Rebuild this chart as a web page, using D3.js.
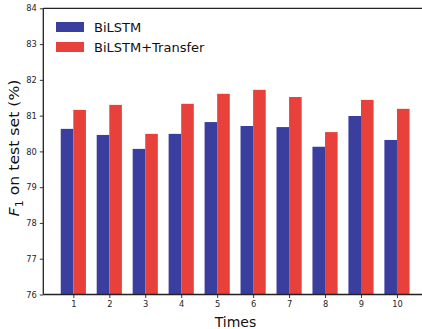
<!DOCTYPE html>
<html><head><meta charset="utf-8">
<script src="https://cdn.jsdelivr.net/npm/d3@7"></script>
<style>body{margin:0;background:#fff}svg{display:block}text{font-family:"DejaVu Sans",sans-serif}</style>
</head><body>
<script>
const times = [1,2,3,4,5,6,7,8,9,10];
const bilstm = [80.63,80.46,80.07,80.49,80.82,80.71,80.68,80.13,80.99,80.32];
const transfer = [81.16,81.30,80.49,81.33,81.61,81.72,81.52,80.54,81.44,81.19];
const yTicks = [76,77,78,79,80,81,82,83,84];
const seriesNames = ["BiLSTM","BiLSTM+Transfer"];
const colors = ["#3a3f9f","#e8403b"];

const W=422,H=329;
const svg=d3.select("body").append("svg").attr("width",W).attr("height",H);
const x=d3.scaleLinear().domain([0.165,10.835]).range([43.3,427]);
const y=d3.scaleLinear().domain([76,84]).range([294.5,8.3]);
const bw=0.35;

const series=[bilstm,transfer];
series.forEach((vals,si)=>{
  svg.append("g").selectAll("rect").data(vals).join("rect")
    .attr("x",(d,i)=>x(times[i]+(si===0?-bw:0)))
    .attr("width",x(bw)-x(0))
    .attr("y",d=>y(d)).attr("height",d=>y(76)-y(d))
    .attr("fill",colors[si]);
});

const ya=svg.append("g").attr("transform","translate(43.3,0)")
  .call(d3.axisLeft(y).tickValues(yTicks).tickSize(3.5).tickPadding(3).tickFormat(d3.format("d")));
const xa=svg.append("g").attr("transform","translate(0,294.5)")
  .call(d3.axisBottom(x).tickValues(times).tickSize(3.5).tickPadding(3).tickFormat(d3.format("d")));
[ya,xa].forEach(a=>{
  a.select(".domain").attr("stroke","#222").attr("stroke-width",1.3);
  a.selectAll(".tick line").attr("stroke","#222").attr("stroke-width",0.9);
  a.selectAll(".tick text").attr("fill","#262626").style("font-size","8.3px").style("font-family","DejaVu Sans");
});
ya.select(".domain").attr("d","M0,294.5V8.3");
xa.select(".domain").attr("d","M43.3,0H427");
svg.append("line").attr("x1",43.3).attr("x2",427).attr("y1",8.3).attr("y2",8.3).attr("stroke","#222").attr("stroke-width",1.3);

svg.append("text").attr("x",235.5).attr("y",327).attr("text-anchor","middle")
  .style("font-size","14px").attr("fill","#111").text("Times");
const yl=svg.append("text").attr("transform","translate(19,148) rotate(-90) scale(1.12,1)").attr("text-anchor","middle")
  .style("font-size","14px").attr("fill","#111");
yl.append("tspan").attr("font-style","italic").text("F");
yl.append("tspan").attr("dy",3.5).style("font-size","10px").text("1");
yl.append("tspan").attr("dy",-3.5).text(" on test set (%)");

const lg=svg.append("g");
seriesNames.forEach((n,i)=>{
  lg.append("rect").attr("x",56).attr("y",22+i*20).attr("width",28).attr("height",10).attr("fill",colors[i]);
  lg.append("text").attr("x",94).attr("y",32+i*20).style("font-size","13px").attr("fill","#111").text(n);
});
</script>
</body></html>
